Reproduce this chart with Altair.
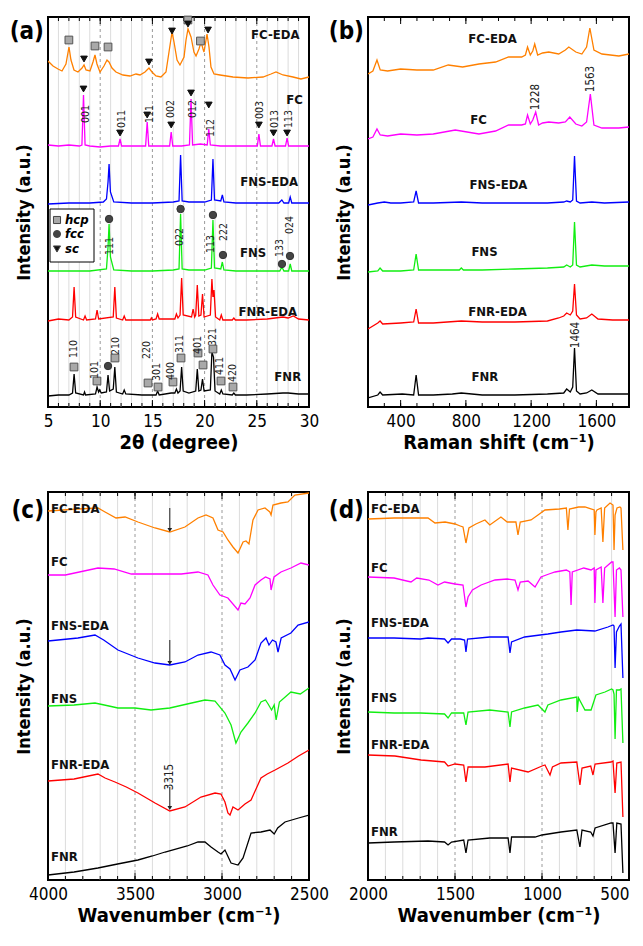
import altair as alt
import pandas as pd

FONT = "DejaVu Sans Condensed, Liberation Sans, sans-serif"
NAMES = ["FC-EDA", "FC", "FNS-EDA", "FNS", "FNR-EDA", "FNR"]
COLORS = ["#ff8000", "#ff00ff", "#0000ff", "#11ee11", "#ff0000", "#000000"]

# ---------------- (a) XRD, 2theta (degree) vs intensity (a.u.) ----------------
A_FCEDA_X = [5.0, 5.48, 5.96, 6.34, 6.72, 7.01, 7.20, 7.49, 7.87, 8.26, 8.45, 8.64, 9.02, 9.31, 9.50,
             9.69, 9.98, 10.36, 10.65, 10.84, 11.13, 11.51, 12.18, 12.85, 13.43, 13.81, 14.29, 14.67,
             14.96, 15.34, 15.82, 16.30, 16.59, 16.88, 17.07, 17.36, 17.64, 18.03, 18.22, 18.41, 18.70,
             18.98, 19.18, 19.46, 19.66, 19.85, 19.94, 20.04, 20.23, 20.42, 20.61, 20.90, 21.48, 22.72,
             24.16, 25.59, 26.36, 26.84, 27.51, 28.47, 29.23, 30.0]
A_FCEDA_Y = [346, 341, 338, 336, 343, 360, 347, 337, 335, 339, 342, 337, 336, 345, 352,
             343, 335, 341, 347, 345, 339, 335, 332, 331, 333, 332, 335, 339,
             335, 331, 330, 335, 355, 375, 365, 347, 342, 350, 367, 378, 370,
             355, 351, 358, 365, 358, 355, 361, 373, 360, 340, 333, 332, 330,
             329, 330, 333, 335, 332, 330, 328, 330]
A_FC_X = [5.0, 6.0, 7.0, 8.0, 8.25, 8.4, 8.55, 9.0, 10.0, 11.0, 11.75, 11.9, 12.05, 13.0, 14.35, 14.5,
          14.65, 15.5, 16.65, 16.8, 16.95, 17.8, 18.55, 18.7, 18.85, 19.6, 20.25, 20.4, 20.55, 21.5,
          23.0, 24.5, 25.05, 25.2, 25.35, 26.45, 26.6, 26.75, 27.75, 27.9, 28.05, 29.0, 30.0]
A_FC_Y = [262, 261, 262, 261, 262, 312, 262, 261, 260, 261, 261, 268, 261, 261, 261, 285,
          261, 261, 261, 275, 261, 261, 262, 308, 262, 263, 262, 278, 262, 261,
          261, 261, 261, 273, 261, 261, 268, 261, 261, 269, 261, 261, 261]
A_FNSEDA_X = [5.0, 7.0, 9.0, 10.3, 10.6, 10.75, 10.85, 10.98, 11.3, 13.0, 15.0, 17.0, 17.55, 17.7,
              17.85, 18.5, 20.0, 20.65, 20.8, 20.95, 21.55, 21.7, 21.85, 23.0, 25.0, 27.1, 27.4,
              27.6, 28.05, 28.2, 28.35, 30.0]
A_FNSEDA_Y = [203, 204, 204, 205, 208, 225, 243, 215, 205, 204, 204, 205, 206, 252,
              206, 205, 205, 207, 248, 207, 206, 212, 205, 204, 204, 204, 207,
              204, 204, 210, 204, 204]
A_FNS_X = [5.0, 7.0, 9.0, 10.6, 10.75, 10.85, 10.98, 11.3, 13.0, 15.0, 17.0, 17.55, 17.7, 17.85,
           18.5, 20.0, 20.65, 20.8, 20.95, 21.55, 21.7, 21.85, 23.0, 25.0, 27.2, 27.4, 27.6, 28.05,
           28.2, 28.35, 30.0]
A_FNS_Y = [136, 136, 136, 138, 160, 183, 150, 137, 136, 136, 137, 138, 193, 138,
           137, 137, 139, 187, 139, 138, 145, 137, 136, 136, 136, 140, 136, 136,
           143, 136, 136]
A_FNREDA_X = [5.0, 6.0, 7.0, 7.35, 7.5, 7.65, 8.4, 8.55, 8.7, 9.55, 9.7, 9.85, 11.25, 11.4, 11.55,
              12.15, 12.3, 12.45, 13.5, 14.8, 14.9, 15.0, 15.35, 15.5, 15.65, 17.15, 17.3, 17.45,
              17.65, 17.8, 17.95, 18.75, 18.9, 19.05, 19.15, 19.3, 19.45, 19.65, 19.8, 19.95, 20.55,
              20.7, 20.8, 20.9, 21.05, 21.45, 21.6, 21.75, 22.65, 22.8, 22.95, 24.0, 26.0, 27.5,
              28.0, 28.5, 29.0, 30.0]
A_FNREDA_Y = [86, 88, 87, 90, 120, 90, 87, 91, 87, 88, 97, 88, 90, 120, 89,
              87, 91, 87, 87, 87, 89, 87, 88, 93, 88, 88, 93, 89,
              92, 129, 92, 90, 98, 90, 92, 122, 91, 92, 113, 90, 92,
              128, 110, 117, 90, 87, 92, 87, 87, 89, 87, 87, 88, 90,
              89, 91, 88, 87]
A_FNR_X = [5.0, 6.0, 7.0, 7.35, 7.5, 7.65, 8.4, 8.5, 8.6, 9.55, 9.7, 9.85, 9.95, 10.1, 10.6, 10.75,
           10.9, 11.25, 11.4, 11.55, 12.15, 12.3, 12.45, 14.0, 15.35, 15.5, 15.65, 16.8, 17.15, 17.3,
           17.45, 17.65, 17.8, 17.95, 18.5, 19.15, 19.3, 19.45, 19.65, 19.8, 19.95, 20.55, 20.7,
           20.85, 21.0, 21.45, 21.6, 21.75, 22.65, 22.8, 22.95, 24.0, 26.0, 27.5, 28.0, 29.0, 30.0]
A_FNR_Y = [11, 12, 12, 14, 33, 14, 12, 15, 12, 13, 20, 15, 17, 14, 15, 32,
           16, 18, 40, 15, 13, 17, 13, 12, 12, 16, 12, 14, 14, 18,
           14, 16, 40, 16, 14, 16, 38, 16, 17, 28, 16, 17, 55,
           50, 16, 13, 17, 13, 12, 14, 12, 12, 13, 14, 14, 13, 13]

A_LABEL_X = [29.1, 29.4, 28.95, 25.9, 28.85, 29.25]
A_LABEL_Y = [372, 307, 225, 154, 95, 30]

A_HKL_TEXT = ["001", "011", "111", "002", "012", "112", "003", "013", "113",
              "111", "022", "113", "222", "133", "024",
              "110", "101", "210", "220", "301", "400", "311", "401", "321", "411", "420"]
A_HKL_X = [8.64, 12.09, 14.77, 16.78, 18.89, 20.61, 25.3, 26.7, 28.1,
           10.94, 17.64, 20.6, 21.86, 27.2, 28.2,
           7.5, 9.5, 11.5, 14.48, 15.45, 16.8, 17.6, 19.37, 20.8, 21.5, 22.7]
A_HKL_Y = [293, 288, 293, 298, 298, 279, 297, 288, 288,
           161, 170, 163, 175, 159, 182,
           58, 37, 61, 57, 35, 36, 63, 62, 70, 41, 34]

A_HCP_X = [7.0, 9.5, 10.75, 19.6, 18.4, 7.49, 9.69, 11.42, 14.58, 15.54, 16.97, 17.74, 19.37, 19.85,
           20.8, 21.57, 22.72]
A_HCP_Y = [367, 361, 360, 366, 387, 40, 26, 49, 24, 20, 25, 49, 54, 42, 58, 26, 20]
A_FCC_X = [10.85, 17.7, 20.8, 21.76, 27.41, 28.18, 10.75]
A_FCC_Y = [188, 198, 192, 152, 143, 151, 41]
A_SC_X = [8.45, 14.67, 16.88, 18.41, 20.33, 8.4, 11.9, 14.5, 16.8, 18.7, 20.4, 25.2, 26.6, 27.9]
A_SC_Y = [348, 345, 376, 383, 377, 318, 274, 292, 282, 314, 302, 282, 274, 274]

# ---------------- (b) Raman ----------------
B_FCEDA_X = [200, 230, 255, 275, 320, 400, 500, 600, 692, 780, 880, 982, 1062, 1142, 1165, 1178, 1195,
             1210, 1222, 1240, 1270, 1308, 1369, 1410, 1431, 1474, 1511, 1540, 1560, 1585, 1634, 1738,
             1800]
B_FCEDA_Y = [333, 336, 347, 337, 336, 338, 337, 337, 342, 340, 343, 345, 350, 350, 352, 360, 352,
             356, 363, 352, 354, 355, 353, 357, 360, 355, 353, 360, 379, 357, 353, 351,
             353]
B_FC_X = [200, 230, 255, 275, 320, 400, 500, 600, 735, 880, 982, 1062, 1142, 1165, 1178, 1195, 1210,
          1228, 1246, 1270, 1308, 1369, 1410, 1437, 1474, 1511, 1540, 1563, 1585, 1634, 1738, 1800]
B_FC_Y = [268, 270, 278, 272, 271, 273, 272, 273, 277, 273, 276, 282, 282, 283, 292, 283, 287,
          295, 282, 284, 285, 284, 285, 290, 283, 281, 285, 313, 282, 279, 279, 280]
B_FNSEDA_X = [200, 260, 300, 340, 400, 480, 495, 510, 600, 772, 900, 1100, 1300, 1400, 1418, 1440,
              1455, 1466, 1478, 1500, 1572, 1650, 1800]
B_FNSEDA_Y = [202, 204, 205, 204, 204, 205, 216, 204, 204, 205, 204, 204, 204, 205, 206, 205,
              207, 251, 206, 204, 205, 204, 205]
B_FNS_X = [200, 260, 274, 290, 400, 480, 495, 510, 600, 760, 772, 785, 900, 1100, 1300, 1400, 1418,
           1440, 1455, 1466, 1478, 1500, 1572, 1650, 1800]
B_FNS_Y = [135, 136, 139, 136, 136, 137, 153, 137, 137, 137, 139, 137, 137, 138, 139, 140, 142,
           140, 142, 185, 142, 140, 142, 141, 141]
B_FNREDA_X = [200, 260, 274, 290, 400, 480, 495, 510, 600, 772, 900, 1100, 1300, 1369, 1400, 1418,
              1440, 1455, 1466, 1478, 1500, 1540, 1572, 1610, 1700, 1800]
B_FNREDA_Y = [78, 84, 86, 83, 84, 85, 98, 84, 84, 86, 85, 85, 86, 89, 91, 94,
              92, 96, 123, 92, 88, 89, 93, 88, 87, 87]
B_FNR_X = [200, 260, 274, 290, 410, 480, 495, 510, 600, 717, 772, 900, 1100, 1300, 1400, 1418, 1440,
           1455, 1466, 1478, 1500, 1540, 1572, 1610, 1700, 1800]
B_FNR_Y = [9, 12, 15, 12, 13, 12, 32, 12, 12, 13, 14, 12, 12, 13, 14, 18, 15,
           20, 59, 16, 13, 14, 17, 13, 13, 13]
B_LABEL_X = [963, 877, 1000, 914, 994, 917]
B_LABEL_Y = [368, 287, 222, 155, 95, 30]
B_NOTE_TEXT = ["1228", "1563", "1464"]
B_NOTE_X = [1228, 1566, 1474]
B_NOTE_Y = [310, 328, 72]

# ---------------- (c) FTIR 4000-2500 ----------------
C_FCEDA_X = [4000, 3828, 3713, 3672, 3609, 3557, 3483, 3385, 3300, 3213, 3138, 3092, 3052, 3023, 2994,
             2966, 2937, 2908, 2879, 2862, 2845, 2822, 2793, 2753, 2725, 2718, 2707, 2661, 2621, 2581,
             2500]
C_FCEDA_Y = [369, 371, 372, 368, 362, 363, 358, 352, 348, 353, 362, 365, 362, 350, 348,
             340, 333, 327, 338, 339, 336, 360, 370, 372, 368, 365, 375, 377, 378, 385,
             387]
C_FC_X = [4000, 3900, 3713, 3620, 3521, 3400, 3234, 3138, 3081, 3052, 3012, 2966, 2908, 2891, 2868,
          2839, 2810, 2776, 2750, 2724, 2718, 2701, 2661, 2604, 2546, 2500]
C_FC_Y = [305, 305, 312, 311, 306, 306, 306, 308, 305, 295, 285, 282, 270, 277, 276,
          282, 295, 300, 303, 301, 290, 303, 308, 312, 317, 315]
C_FNSEDA_X = [4000, 3828, 3730, 3680, 3598, 3483, 3385, 3300, 3213, 3138, 3063, 3012, 2983, 2954,
              2925, 2897, 2851, 2810, 2776, 2747, 2730, 2710, 2690, 2678, 2660, 2604, 2563, 2500]
C_FNSEDA_Y = [239, 242, 245, 240, 230, 222, 217, 215, 218, 225, 228, 225, 215, 211,
              200, 210, 213, 220, 237, 242, 235, 240, 238, 228, 242, 247, 255, 258]
C_FNS_X = [4000, 3850, 3730, 3650, 3598, 3500, 3408, 3300, 3200, 3098, 3040, 2983, 2948, 2920, 2891,
           2851, 2810, 2776, 2750, 2735, 2715, 2700, 2689, 2670, 2604, 2550, 2500]
C_FNS_Y = [174, 175, 177, 174, 172, 172, 170, 172, 176, 180, 179, 167, 155, 137, 148,
           157, 167, 178, 180, 176, 170, 175, 160, 178, 188, 186, 192]
C_FNREDA_X = [4000, 3850, 3713, 3672, 3615, 3550, 3483, 3385, 3300, 3213, 3121, 3040, 3006, 2983,
              2966, 2954, 2937, 2908, 2868, 2833, 2776, 2740, 2695, 2621, 2560, 2500]
C_FNREDA_Y = [99, 101, 106, 102, 98, 93, 87, 77, 69, 73, 83, 87, 86, 78,
              67, 65, 73, 70, 76, 80, 102, 106, 110, 117, 124, 130]
C_FNR_X = [4000, 3850, 3713, 3600, 3483, 3400, 3327, 3200, 3138, 3098, 3063, 3023, 3006, 2983, 2948,
           2908, 2879, 2833, 2776, 2724, 2700, 2680, 2638, 2560, 2500]
C_FNR_Y = [5, 8, 12, 16, 20, 24, 28, 34, 38, 38, 33, 28, 26, 30, 17,
           15, 22, 47, 48, 50, 46, 52, 58, 62, 65]
C_LABEL_X = [3983, 3983, 3983, 3983, 3983, 3983]
C_LABEL_Y = [371, 318, 254, 181, 115, 23]
C_NOTE_TEXT = ["3315"]
C_NOTE_X = [3300]
C_NOTE_Y = [103]
C_ARROW_X = [3300, 3300, 3300]
C_ARROW_Y1 = [372, 240, 93]
C_ARROW_Y2 = [350, 217, 72]

# ---------------- (d) FTIR 2000-500 ----------------
D_FCEDA_X = [2000, 1850, 1700, 1655, 1615, 1557, 1500, 1470, 1454, 1437, 1420, 1380, 1328, 1300, 1236,
             1200, 1150, 1138, 1125, 1063, 1023, 983, 900, 860, 851, 842, 790, 753, 700, 696, 690,
             684, 660, 650, 640, 609, 592, 586, 580, 569, 552, 546, 535]
D_FCEDA_Y = [361, 362, 362, 362, 357, 358, 356, 354, 353, 337, 352, 356, 360, 355, 363,
             358, 358, 345, 358, 360, 365, 370, 371, 372, 350, 371, 373, 373, 370, 345, 368,
             370, 372, 338, 372, 377, 375, 330, 365, 372, 373, 372, 330]
D_FC_X = [2000, 1850, 1753, 1720, 1650, 1598, 1560, 1500, 1454, 1437, 1425, 1400, 1350, 1270, 1200,
          1155, 1138, 1125, 1080, 1040, 1006, 960, 925, 860, 840, 833, 826, 760, 718, 700, 696, 690,
          660, 650, 640, 600, 592, 580, 572, 555, 546, 535]
D_FC_Y = [303, 302, 298, 302, 300, 295, 298, 296, 295, 273, 283, 290, 295, 300, 301,
          300, 290, 298, 299, 293, 303, 306, 308, 310, 308, 275, 308, 312, 310, 312, 277, 310,
          313, 277, 312, 318, 318, 263, 310, 312, 310, 263]
D_FNSEDA_X = [2000, 1850, 1700, 1655, 1560, 1540, 1520, 1470, 1445, 1437, 1428, 1300, 1195, 1184,
              1175, 1100, 966, 891, 800, 696, 621, 592, 586, 580, 572, 555, 546, 535]
D_FNSEDA_Y = [242, 242, 241, 242, 241, 237, 241, 241, 240, 228, 241, 243, 243, 227,
              238, 243, 246, 248, 250, 249, 253, 255, 254, 212, 248, 254, 256, 202]
D_FNS_X = [2000, 1850, 1700, 1560, 1540, 1520, 1450, 1437, 1425, 1300, 1195, 1184, 1175, 1100, 1023,
           983, 966, 891, 800, 798, 790, 753, 718, 690, 638, 600, 592, 586, 580, 572, 555, 546, 535]
D_FNS_Y = [168, 167, 167, 166, 162, 167, 167, 155, 168, 170, 168, 153, 168, 172, 175,
           168, 175, 180, 183, 168, 182, 170, 170, 185, 188, 191, 190, 186, 141, 190, 190, 191, 137]
D_FNREDA_X = [2000, 1845, 1695, 1560, 1540, 1500, 1450, 1437, 1425, 1328, 1195, 1184, 1175, 1080,
              1000, 983, 954, 940, 891, 800, 782, 770, 720, 707, 695, 603, 592, 580, 570, 546, 535]
D_FNREDA_Y = [125, 124, 120, 118, 114, 116, 115, 98, 113, 113, 116, 98, 112, 108,
              114, 115, 105, 113, 117, 118, 95, 112, 114, 105, 116, 118, 119, 87, 117, 118, 63]
D_FNR_X = [2000, 1850, 1655, 1560, 1540, 1520, 1450, 1437, 1425, 1300, 1195, 1184, 1175, 1040, 1000,
           891, 800, 782, 770, 720, 707, 695, 603, 592, 580, 570, 546, 535]
D_FNR_Y = [37, 38, 39, 38, 35, 38, 40, 27, 40, 42, 42, 27, 43, 43, 45,
           48, 50, 33, 50, 48, 44, 52, 57, 57, 27, 57, 56, 7]
D_LABEL_X = [1983, 1983, 1983, 1983, 1983, 1983]
D_LABEL_Y = [371, 312, 257, 182, 135, 48]

# ---------------- helpers ----------------
color_scale = alt.Scale(domain=NAMES, range=COLORS)


def series_df(xs_list, ys_list):
    rows = []
    for name, xs, ys in zip(NAMES, xs_list, ys_list):
        assert len(xs) == len(ys), name
        for i, (x, y) in enumerate(zip(xs, ys)):
            rows.append({"s": name, "x": x, "y": y, "i": i})
    return pd.DataFrame(rows)


def xy_df(xs, ys, **extra):
    d = {"x": xs, "y": ys}
    d.update(extra)
    return pd.DataFrame(d)


ONE = pd.DataFrame({"k": [0]})


def panel(letter, letter_y, H, xdom, reverse, xvals, xtitle, minor, major, light, dashed,
          lines, labels, label_align, hkl=None, notes=None, markers=None, arrows=None, legend=False,
          last_right=None):
    xsc = alt.Scale(domain=xdom, reverse=reverse, nice=False, zero=False)
    ysc = alt.Scale(domain=[0, H], nice=False, zero=False)
    label_align_prop = "center"
    if last_right is not None:
        label_align_prop = {"condition": {"test": "datum.value == %d" % last_right, "value": "right"},
                            "value": "center"}
    xax = alt.Axis(values=xvals, format="d", title=xtitle, ticks=False, domain=False, grid=False,
                   labelFont=FONT, labelFontSize=17, labelColor="black", labelPadding=6,
                   labelFlush=False, labelOverlap=False, labelAlign=label_align_prop,
                   titleFont=FONT, titleFontSize=20, titleFontWeight="bold", titleColor="black",
                   titlePadding=3)
    yax = alt.Axis(title="Intensity (a.u.)", labels=False, ticks=False, domain=False, grid=False,
                   titleFont=FONT, titleFontSize=18, titleFontWeight="bold", titleColor="black",
                   titlePadding=15)

    def X(f="x"):
        return alt.X(f + ":Q", scale=xsc, axis=xax)

    def Y(f="y"):
        return alt.Y(f + ":Q", scale=ysc, axis=yax)

    layers = []
    if light:
        layers.append(alt.Chart(pd.DataFrame({"t": light})).mark_rule(color="#dcdcdc", strokeWidth=1)
                      .encode(x=X("t")))
    if dashed:
        layers.append(alt.Chart(pd.DataFrame({"t": dashed})).mark_rule(color="#9a9a9a", strokeWidth=1,
                                                                         strokeDash=[3, 3])
                      .encode(x=X("t")))
    tmin = pd.DataFrame({"t": minor})
    tmaj = pd.DataFrame({"t": major})
    for d, ln in ((tmin, 4), (tmaj, 7)):
        layers.append(alt.Chart(d).mark_rule(color="black", strokeWidth=1)
                      .encode(x=X("t"), y=alt.value(0), y2=alt.value(ln)))
        layers.append(alt.Chart(d).mark_rule(color="black", strokeWidth=1)
                      .encode(x=X("t"), y=alt.value(H), y2=alt.value(H - ln)))
    layers.append(alt.Chart(lines).mark_line(strokeWidth=1.3, clip=True).encode(
        x=X(), y=Y(), color=alt.Color("s:N", scale=color_scale, legend=None),
        detail="s:N", order="i:Q"))
    if markers:
        for d, shape, fill, stroke, size in markers:
            layers.append(alt.Chart(d).mark_point(shape=shape, filled=True, fill=fill, stroke=stroke,
                                                  strokeWidth=1, size=size, opacity=1)
                          .encode(x=X(), y=Y()))
    if arrows is not None:
        layers.append(alt.Chart(arrows).mark_rule(color="#222222", strokeWidth=1)
                      .encode(x=X(), y=Y(), y2=alt.Y2("y2:Q")))
        layers.append(alt.Chart(arrows).mark_point(shape="triangle-down", filled=True,
                                                   color="#222222", size=22, opacity=1)
                      .encode(x=X(), y=alt.Y("y2:Q", scale=ysc, axis=yax)))
    if hkl is not None:
        layers.append(alt.Chart(hkl).mark_text(angle=270, font=FONT, fontSize=10.5, color="#222222",
                                               align="center", baseline="middle")
                      .encode(x=X(), y=Y(), text="t:N"))
    if notes is not None:
        layers.append(alt.Chart(notes).mark_text(angle=270, font=FONT, fontSize=11.5, color="#222222",
                                                 align="center", baseline="middle")
                      .encode(x=X(), y=Y(), text="t:N"))
    layers.append(alt.Chart(labels).mark_text(font=FONT, fontSize=13, fontWeight="bold", color="#111111",
                                              align=label_align, baseline="middle")
                  .encode(x=X(), y=Y(), text="t:N"))
    if legend:
        layers.append(alt.Chart(ONE).mark_rect(fill="white", stroke="black", strokeWidth=1)
                      .encode(x=alt.value(2), x2=alt.value(46), y=alt.value(192), y2=alt.value(245)))
        for yy, shape, fill, txt in ((203, "square", "#a8a8a8", "hcp"), (217, "circle", "#444444", "fcc"),
                                     (232, "triangle-down", "#111111", "sc")):
            layers.append(alt.Chart(ONE).mark_point(shape=shape, filled=True, fill=fill, stroke="#444444",
                                                    strokeWidth=1, size=50, opacity=1)
                          .encode(x=alt.value(9), y=alt.value(yy)))
            layers.append(alt.Chart(ONE).mark_text(text=txt, font=FONT, fontSize=13, fontWeight="bold",
                                                   fontStyle="italic", align="left", baseline="middle",
                                                   color="black")
                          .encode(x=alt.value(17), y=alt.value(yy)))
    layers.append(alt.Chart(ONE).mark_text(text=letter, font=FONT, fontSize=24, fontWeight="bold",
                                           align="right", baseline="top", color="black")
                  .encode(x=alt.value(-4), y=alt.value(letter_y)))
    return alt.layer(*layers).properties(width=261, height=H)


# ---------- panel (a)
a_lines = series_df([A_FCEDA_X, A_FC_X, A_FNSEDA_X, A_FNS_X, A_FNREDA_X, A_FNR_X],
                    [A_FCEDA_Y, A_FC_Y, A_FNSEDA_Y, A_FNS_Y, A_FNREDA_Y, A_FNR_Y])
a_labels = xy_df(A_LABEL_X, A_LABEL_Y, t=NAMES)
a_hkl = xy_df(A_HKL_X, A_HKL_Y, t=A_HKL_TEXT)
a_markers = [
    (xy_df(A_HCP_X, A_HCP_Y), "square", "#a9a9a9", "#555555", 60),
    (xy_df(A_FCC_X, A_FCC_Y), "circle", "#444444", "#333333", 55),
    (xy_df(A_SC_X, A_SC_Y), "triangle-down", "#111111", "#111111", 45),
]
deg = list(range(5, 31))
pa = panel("(a)", 3, 390, [5, 30], False, [5, 10, 15, 20, 25, 30], "2θ (degree)",
           deg, [5, 10, 15, 20, 25, 30], [d for d in deg if d % 5], [10, 15, 20, 25],
           a_lines, a_labels, "right", hkl=a_hkl, markers=a_markers, legend=True)

# ---------- panel (b)
b_lines = series_df([B_FCEDA_X, B_FC_X, B_FNSEDA_X, B_FNS_X, B_FNREDA_X, B_FNR_X],
                    [B_FCEDA_Y, B_FC_Y, B_FNSEDA_Y, B_FNS_Y, B_FNREDA_Y, B_FNR_Y])
b_labels = xy_df(B_LABEL_X, B_LABEL_Y, t=NAMES)
b_notes = xy_df(B_NOTE_X, B_NOTE_Y, t=B_NOTE_TEXT)
pb = panel("(b)", 3, 390, [200, 1800], False, [400, 800, 1200, 1600], "Raman shift (cm⁻¹)",
           list(range(300, 1800, 100)), [400, 800, 1200, 1600], [], [],
           b_lines, b_labels, "center", notes=b_notes)

# ---------- panel (c)
c_lines = series_df([C_FCEDA_X, C_FC_X, C_FNSEDA_X, C_FNS_X, C_FNREDA_X, C_FNR_X],
                    [C_FCEDA_Y, C_FC_Y, C_FNSEDA_Y, C_FNS_Y, C_FNREDA_Y, C_FNR_Y])
c_labels = xy_df(C_LABEL_X, C_LABEL_Y, t=NAMES)
c_notes = xy_df(C_NOTE_X, C_NOTE_Y, t=C_NOTE_TEXT)
c_arrows = pd.DataFrame({"x": C_ARROW_X, "y": C_ARROW_Y1, "y2": C_ARROW_Y2})
wn_c = list(range(2600, 4000, 100))
pc = panel("(c)", 7, 388, [2500, 4000], True, [4000, 3500, 3000, 2500], "Wavenumber (cm⁻¹)",
           wn_c, [3500, 3000], [w for w in wn_c if w % 500], [3500, 3000],
           c_lines, c_labels, "left", notes=c_notes, arrows=c_arrows)

# ---------- panel (d)
d_lines = series_df([D_FCEDA_X, D_FC_X, D_FNSEDA_X, D_FNS_X, D_FNREDA_X, D_FNR_X],
                    [D_FCEDA_Y, D_FC_Y, D_FNSEDA_Y, D_FNS_Y, D_FNREDA_Y, D_FNR_Y])
d_labels = xy_df(D_LABEL_X, D_LABEL_Y, t=NAMES)
wn_d = list(range(600, 2000, 100))
pd_ = panel("(d)", 7, 388, [500, 2000], True, [2000, 1500, 1000, 500], "Wavenumber (cm⁻¹)",
            wn_d, [1500, 1000], [w for w in wn_d if w % 500], [1500, 1000],
            d_lines, d_labels, "left", last_right=500)

chart = alt.concat(pa, pb, pc, pd_, columns=2, spacing={"row": 85, "column": 59},
                   bounds="flush").properties(
    padding={"left": 0, "top": 5, "right": 0, "bottom": 0}
).configure_view(stroke="black", strokeWidth=2)

chart.save("out.html", embed_options={"renderer": "svg", "actions": False})
